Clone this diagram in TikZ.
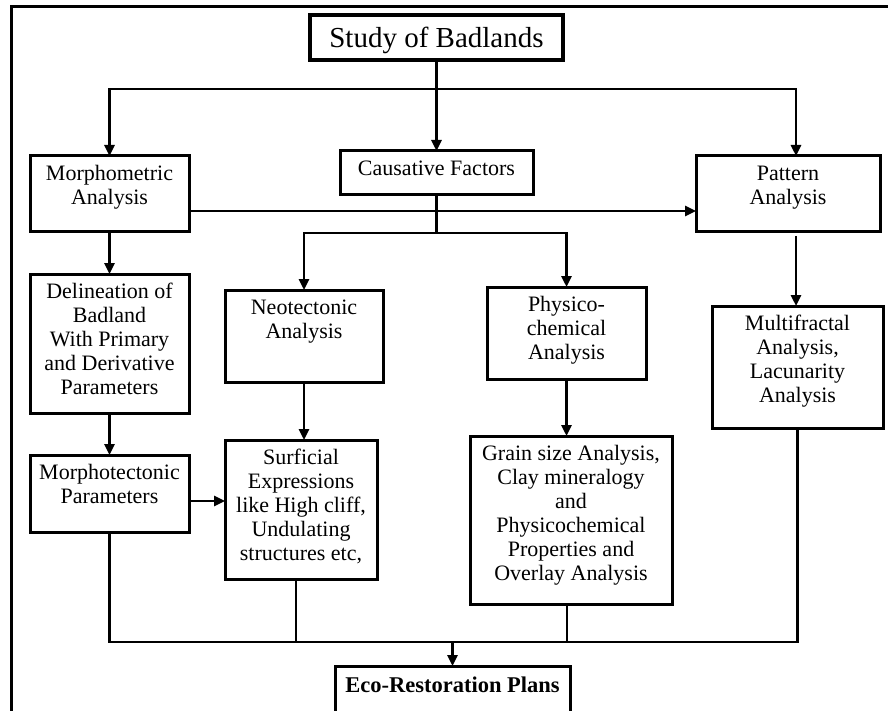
\documentclass[tikz,border=0pt]{standalone}
\usepackage{fontspec}
\setmainfont{Liberation Serif}
\usetikzlibrary{arrows.meta}
\newcommand{\bxt}[3]{\parbox[c][#2][t]{#1}{\centering\vspace*{8pt}\strut #3}}
\begin{document}
\begin{tikzpicture}[x=1pt,y=-1pt,
  bx/.style={draw, line width=3pt, inner sep=0pt, outer sep=0pt, anchor=north west, font=\fontsize{22}{24}\selectfont},
  ln/.style={line width=2.6pt},
  arr/.style={ln, -{Triangle[width=10pt,length=11pt]}}]
\clip (0,0) rectangle (888,711);
\fill[white] (0,0) rectangle (888,711);
% outer frame
\draw[line width=3pt] (11,716) -- (11,7) -- (895,7);
% title
\node[draw, line width=4pt, inner sep=0pt, minimum width=253pt, minimum height=45pt, text depth=0pt,
      font=\fontsize{29}{30}\selectfont] (title) at (436.5,37.5) {Study of Badlands};
% boxes
\node[bx] (morph) at (30,156) {\bxt{159pt}{76pt}{Morphometric\\Analysis}};
\node[bx] (caus) at (340,151) {\bxt{193pt}{44pt}{Causative Factors}};
\node[bx] (pattern) at (696,156) {\bxt{184pt}{76pt}{Pattern\\Analysis}};
\node[bx] (delin) at (30,274) {\bxt{159pt}{139pt}{Delineation of\\Badland\\With Primary\\and Derivative\\Parameters}};
\node[bx] (neo) at (225,290) {\bxt{158pt}{92pt}{Neotectonic\\Analysis}};
\node[bx] (phys) at (487,287) {\bxt{159pt}{92pt}{Physico-\\chemical\\Analysis}};
\node[bx] (multi) at (712,306) {\bxt{171pt}{122pt}{Multifractal\\Analysis,\\Lacunarity\\Analysis}};
\node[bx] (morphotec) at (30,455) {\bxt{159pt}{77pt}{Morphotectonic\\Parameters}};
\node[bx] (surf) at (225,440) {\bxt{152pt}{139pt}{Surficial\\Expressions\\like High cliff,\\Undulating\\structures etc,}};
\node[bx] (grain) at (470,436) {\bxt{202pt}{168pt}{Grain size Analysis,\\Clay mineralogy\\and\\Physicochemical\\Properties and\\Overlay Analysis}};
\node[bx, font=\fontsize{22.5}{24}\selectfont\bfseries] (eco) at (335,666)
  {\parbox[c][54pt][t]{235pt}{\centering\vspace*{10pt}\strut Eco-Restoration Plans}};
% junction coordinates
\coordinate (jt) at (436.5,89);
\coordinate (ym) at (0,211);
\coordinate (jc) at (436.5,233);
\coordinate (ya) at (0,501);
\coordinate (jb) at (0,642);
% top distribution
\draw[ln] (title.south) -- (jt);
\draw[arr] (jt) -| (morph.north);
\draw[arr] (jt) -- (caus.north);
\draw[arr] (jt) -| ([xshift=8pt]pattern.north);
% morphometric to pattern
\draw[arr] (morph.east |- ym) -- (pattern.west |- ym);
% causative branches
\draw[ln] (caus.south) -- (jc);
\draw[arr] (jc) -| (neo.north);
\draw[arr] (jc) -| (phys.north);
% vertical chains
\draw[arr] (morph.south) -- (delin.north);
\draw[arr] (delin.south) -- (morphotec.north);
\draw[arr] (neo.south) -- (neo.south |- surf.north);
\draw[arr] (phys.south) -- (phys.south |- grain.north);
\draw[arr] ([xshift=8pt,yshift=-4pt]pattern.south) -- ([xshift=8pt]pattern.south |- multi.north);
\draw[arr] (morphotec.east |- ya) -- (surf.west |- ya);
% bottom collection
\draw[ln] (morphotec.south) -- (morphotec.south |- jb) -- (multi.south |- jb) -- (multi.south);
\draw[ln] ([xshift=-5pt]surf.south) -- ([xshift=-5pt]surf.south |- jb);
\draw[ln] ([xshift=-4pt]grain.south) -- ([xshift=-4pt]grain.south |- jb);
\draw[arr] (eco.north |- jb) -- (eco.north);
\end{tikzpicture}
\end{document}
